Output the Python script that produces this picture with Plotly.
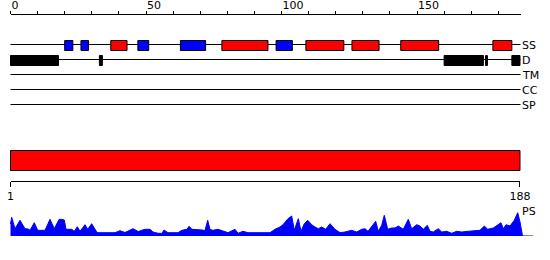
import plotly.graph_objects as go

# ---------------- data ----------------
SEQ_LEN = 188
track_names = ["SS", "D", "TM", "CC", "SP"]

# secondary structure elements (start, end, type)
ss_start = [20, 26, 37, 47, 62.7, 78, 98, 109, 126, 144, 178]
ss_end = [23, 28.8, 43, 51, 72, 95, 104, 123, 136, 158, 185]
ss_type = ["E", "E", "H", "E", "E", "H", "E", "H", "H", "H", "H"]

# disorder regions
d_start = [0, 32.8, 160, 175.3, 185]
d_end = [17.7, 33.9, 174.5, 176.0, 188]

# domain bar
dom_start = [0]
dom_end = [SEQ_LEN]
dom_labels = ["1", "188"]

# PS profile (position, score)
ps_pos = [0.0, 0.44, 1.66, 3.51, 5.35, 6.57, 7.20, 8.78, 10.04, 12.73, 14.58, 16.16, 17.90, 18.89,
          19.85, 20.48, 22.58, 23.54, 24.65, 25.65, 27.49, 28.49, 29.96, 31.81, 32.29, 38.56, 40.41,
          42.25, 45.20, 47.16, 48.41, 49.63, 51.48, 52.58, 54.43, 55.90, 56.64, 58.12, 61.81, 63.28,
          65.13, 65.87, 66.97, 68.82, 70.66, 71.77, 72.77, 73.62, 74.72, 76.57, 78.41, 80.26, 82.84,
          83.95, 85.79, 87.64, 95.76, 97.60, 99.45, 100.55, 102.40, 103.76, 104.72, 106.20, 107.20,
          108.41, 109.67, 111.14, 112.36, 113.58, 114.83, 116.31, 117.90, 119.74, 121.59, 123.43,
          125.90, 127.75, 129.59, 130.81, 131.92, 133.28, 134.76, 135.72, 136.97, 137.93, 139.19,
          140.66, 141.88, 143.10, 144.94, 146.79, 148.04, 149.89, 151.11, 152.32, 153.80, 154.80,
          156.01, 157.86, 159.11, 160.96, 162.80, 164.65, 166.49, 168.93, 171.40, 173.25, 174.83,
          176.09, 178.15, 179.41, 181.00, 181.85, 182.84, 184.32, 185.90, 187.16, 188.01, 188.86,
          189.1, 192.8]
ps_val = [12, 18.7, 7.3, 15.7, 7.3, 7.0, 5.7, 13.3, 5.7, 5.7, 16.7, 7.3, 16.5, 16.7, 16.0, 6.7, 6.7,
          4.7, 9.3, 4.7, 11.3, 6.7, 12.3, 4.0, 3.3, 3.3, 5.3, 3.5, 7.3, 4.5, 5.7, 6.7, 6.7, 4.0, 2.7,
          2.7, 6.0, 3.3, 3.3, 5.7, 6.7, 9.7, 6.7, 6.7, 6.0, 5.5, 15.7, 6.5, 5.7, 6.7, 4.7, 3.3, 6.7,
          2.7, 4.7, 3.3, 3.3, 6.7, 9.0, 11.3, 17.3, 20.0, 5.7, 17.3, 4.7, 12.3, 15.7, 11.3, 9.0, 7.3,
          9.0, 6.7, 12.3, 6.7, 3.3, 4.0, 5.7, 4.0, 6.7, 7.3, 4.7, 9.0, 14.7, 4.7, 10.7, 20.7, 6.7,
          8.0, 8.0, 10.0, 6.7, 16.7, 7.3, 11.3, 10.0, 6.7, 10.7, 4.7, 4.0, 7.3, 4.0, 4.7, 2.7, 4.7,
          4.0, 4.7, 5.3, 5.7, 10.0, 6.7, 8.0, 10.7, 13.3, 7.3, 11.3, 10.0, 15.7, 23.3, 14.0, 1.3, 0, 0]

# ---------------- layout constants ----------------
W, H = 550, 260
S = 2.71          # px per residue
X0PX = 10.5       # pixel of residue 0
XR = [-X0PX / S, (W - X0PX) / S]
FONT = dict(family="DejaVu Sans", size=11, color="black")
COLORS = {"H": "#ff0000", "E": "#0000ff"}

track_y = [44.5, 59.5, 74.5, 89.5, 104.5]   # pixel rows of the tracks
AXIS_END = 188.2

fig = go.Figure()

# PS profile
fig.add_trace(go.Scatter(x=ps_pos, y=ps_val, xaxis="x2", yaxis="y2", mode="lines",
                         line=dict(color="#0000ff", width=1), fill="tozeroy",
                         fillcolor="#0000ff", hoverinfo="skip", showlegend=False))
# dummy traces to create axis subplots
fig.add_trace(go.Scatter(x=[0], y=[0], xaxis="x3", yaxis="y3", mode="markers",
                         marker=dict(opacity=0), hoverinfo="skip", showlegend=False))
fig.add_trace(go.Scatter(x=[0], y=[0], xaxis="x4", yaxis="y4", mode="markers",
                         marker=dict(opacity=0), hoverinfo="skip", showlegend=False))
fig.add_trace(go.Scatter(x=[0], y=[0], xaxis="x", yaxis="y", mode="markers",
                         marker=dict(opacity=0), hoverinfo="skip", showlegend=False))

shapes = []
for ty in track_y:
    shapes.append(dict(type="line", xref="x", yref="y", x0=0, x1=AXIS_END, y0=ty, y1=ty,
                       line=dict(color="black", width=1)))
for s0, s1, t in zip(ss_start, ss_end, ss_type):
    shapes.append(dict(type="rect", xref="x", yref="y", x0=s0, x1=s1, y0=40.5, y1=50.5,
                       fillcolor=COLORS[t], line=dict(color="black", width=1)))
for s0, s1 in zip(d_start, d_end):
    shapes.append(dict(type="rect", xref="x", yref="y", x0=s0, x1=s1, y0=55.5, y1=65.5,
                       fillcolor="black", line=dict(color="black", width=1)))
for s0, s1 in zip(dom_start, dom_end):
    shapes.append(dict(type="rect", xref="x", yref="y", x0=s0, x1=s1, y0=150.5, y1=170.5,
                       fillcolor="#ff0000", line=dict(color="black", width=1)))

annotations = []
lab_x = (520.5 - X0PX) / S
for name, ty in zip(track_names, track_y):
    annotations.append(dict(text=name, x=lab_x, y=ty + 0.5, xref="x", yref="y", xanchor="left",
                            yanchor="middle", showarrow=False, font=FONT, borderpad=0))
annotations.append(dict(text="PS", x=lab_x, y=211, xref="x", yref="y", xanchor="left",
                        yanchor="middle", showarrow=False, font=FONT, borderpad=0))

fig.update_layout(
    width=W, height=H, margin=dict(l=0, r=0, t=0, b=0, pad=0, autoexpand=False),
    paper_bgcolor="white", plot_bgcolor="rgba(0,0,0,0)",
    showlegend=False, shapes=shapes, annotations=annotations, font=FONT,
    xaxis=dict(domain=[0, 1], range=XR, visible=False, anchor="y", fixedrange=True),
    yaxis=dict(domain=[0, 1], range=[H, 0], visible=False, anchor="x", fixedrange=True),
    xaxis2=dict(domain=[0, 1], range=XR, visible=False, anchor="y2"),
    yaxis2=dict(domain=[1 - 236 / H, 1 - 212 / H], range=[0, 24], visible=False, anchor="x2"),
    xaxis3=dict(domain=[X0PX / W, (X0PX + S * AXIS_END) / W], range=[0, AXIS_END], anchor="y3",
                side="top", showline=True, linecolor="black", linewidth=1, ticks="outside",
                ticklen=3, tickwidth=1, tickcolor="black", tickmode="linear", tick0=0, dtick=50,
                ticklabelposition="outside right", showgrid=False, zeroline=False, tickfont=FONT,
                automargin=False,
                minor=dict(tick0=0, dtick=10, ticks="outside", ticklen=3, tickcolor="black",
                           tickwidth=1, showgrid=False)),
    yaxis3=dict(domain=[0.5, 1 - 14.5 / H], range=[0, 1], visible=False, anchor="x3"),
    xaxis4=dict(domain=[X0PX / W, (X0PX + S * SEQ_LEN) / W], range=[0, SEQ_LEN], anchor="y4",
                side="bottom", showline=True, linecolor="black", linewidth=1, ticks="outside",
                ticklen=5, tickwidth=1, tickcolor="black", tickmode="array", automargin=False,
                tickvals=[0, SEQ_LEN], ticktext=dom_labels, showgrid=False, zeroline=False,
                tickfont=FONT),
    yaxis4=dict(domain=[1 - 180.5 / H, 0.5], range=[0, 1], visible=False, anchor="x4"),
)

fig.write_html("out.html", config={"displayModeBar": False})
